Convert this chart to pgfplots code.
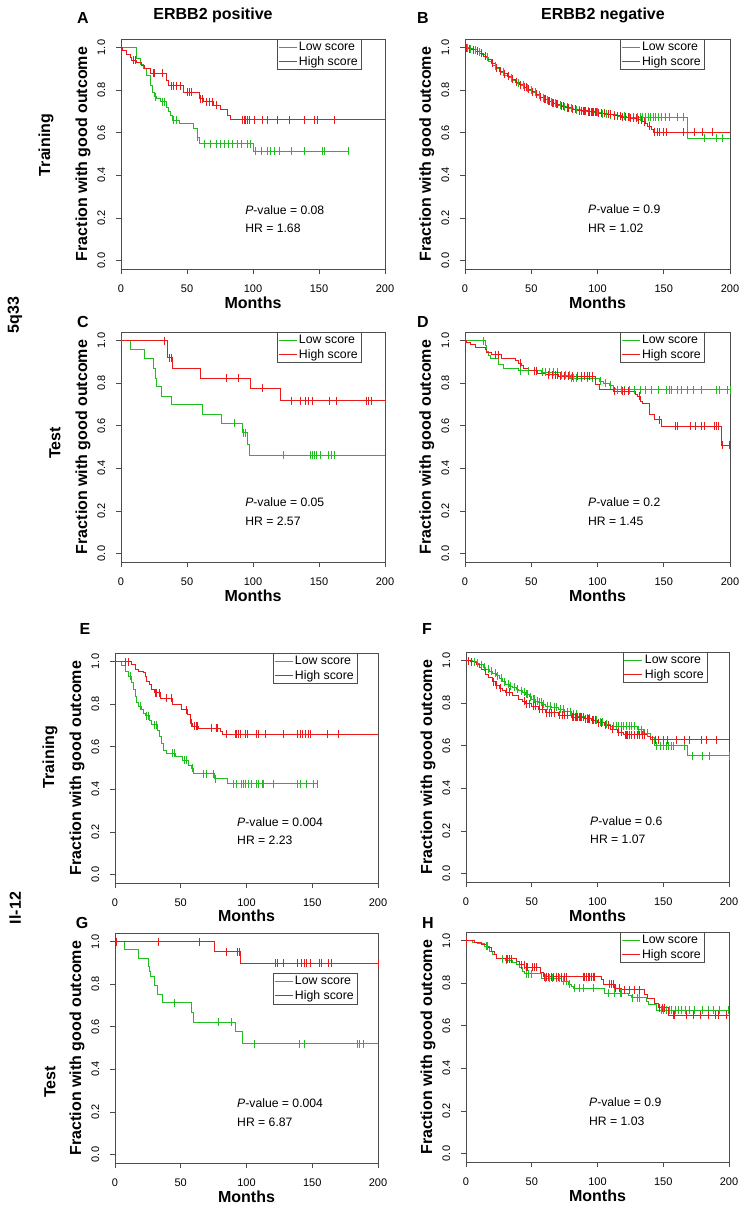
\documentclass[border=0pt]{standalone}
\usepackage{fontspec}
\setmainfont{Liberation Sans}
\usepackage{pgfplots}
\pgfplotsset{compat=1.18}
\definecolor{kmgreen}{RGB}{30,190,30}
\definecolor{kmred}{RGB}{235,25,25}
\newcommand{\bigb}{\bfseries\fontsize{16}{18}\selectfont}
\tikzset{pv/.style={anchor=west, font=\fontsize{12.2}{14}\selectfont, inner sep=0pt}}
\pgfplotsset{legend image code/.code={\draw[#1, line width=0.9pt] (0pt,0pt) -- (18pt,0pt);}}
\pgfplotsset{
  km/.style={
    scale only axis, height=230pt,
    xmin=0, xmax=200, ymin=-0.04, ymax=1.04,
    xtick={0,50,100,150,200}, xticklabels={0,50,100,150,200},
    ytick={0,0.2,0.4,0.6,0.8,1.0}, yticklabels={0.0,0.2,0.4,0.6,0.8,1.0},
    tick pos=left, tick align=outside, major tick length=5pt,
    axis line style={black!70, line width=0.7pt},
    every tick/.style={black!70, line width=0.7pt},
    ticklabel style={font=\fontsize{11}{13}\selectfont},
    yticklabel style={rotate=90, anchor=south, inner xsep=0pt, inner ysep=10.5pt},
    xticklabel style={anchor=north, inner ysep=11pt},
    ylabel={Fraction with good outcome},
    ylabel style={font=\bigb, at={(axis description cs:-0.144,0.5)}, anchor=center},
    xlabel={Months},
    xlabel style={font=\bigb, at={(axis description cs:0.5,-0.148)}, anchor=center},
    legend style={font=\fontsize{12.3}{14}\selectfont, draw=black!70, anchor=north east, inner xsep=1pt, inner ysep=1pt, row sep=0pt, fill=white},
    legend cell align=left,
    clip=false,
  },
}
\newcommand{\kmcurve}[3]{%
  \addplot[const plot, #1, line width=0.75pt] coordinates {#2};
  \addplot[only marks, mark=|, mark size=4pt, #1, mark options={line width=0.7pt}, forget plot] coordinates {#3};
}
\begin{document}
\begin{tikzpicture}
\useasboundingbox (0pt,0pt) rectangle (750pt,-1212pt);

% ---------------- A ----------------
\begin{axis}[km, at={(121pt,-269pt)}, anchor=south west, width=264pt, legend style={at={(0.909,1)}}]
\kmcurve{kmgreen}{(0,1)(12,0.95)(15,0.92)(17,0.90)(19.5,0.87)(22,0.82)(23.5,0.79)(25,0.77)(27,0.76)(30,0.745)(34,0.72)(36,0.70)(37.5,0.68)(38.6,0.66)(44.4,0.643)(54.6,0.62)(58,0.58)(59.6,0.548)(100.3,0.512)(172,0.512)}
{(25.8,0.77)(31.5,0.745)(32.5,0.745)(39.5,0.66)(42,0.66)(57.6,0.58)(63,0.548)(68,0.548)(72,0.548)(75,0.548)(78,0.548)(81,0.548)(84,0.548)(88,0.548)(91,0.548)(96,0.548)(98,0.548)(101.5,0.512)(106,0.512)(111,0.512)(113.5,0.512)(116.5,0.512)(120,0.512)(128.7,0.512)(138.8,0.512)(152.8,0.512)(154,0.512)(172,0.512)}
\kmcurve{kmred}{(0,1)(1,0.985)(4,0.97)(7,0.955)(8,0.94)(12,0.93)(15.7,0.918)(17.8,0.90)(22,0.879)(34,0.847)(36,0.82)(47,0.79)(59.4,0.76)(62.7,0.745)(70,0.73)(75.4,0.71)(80.5,0.68)(83,0.661)(200,0.661)}
{(0.5,0.99)(9.5,0.94)(11,0.94)(24.5,0.879)(25.5,0.879)(31,0.879)(38,0.82)(39.5,0.82)(42,0.82)(45,0.82)(50,0.79)(51.5,0.79)(53,0.79)(60,0.76)(61.5,0.76)(65,0.745)(67,0.745)(69,0.745)(72,0.73)(91.9,0.661)(93.1,0.661)(94.4,0.661)(95.7,0.661)(97,0.661)(100.8,0.661)(107.1,0.661)(110.9,0.661)(118.5,0.661)(127.4,0.661)(138.8,0.661)(146.4,0.661)(149,0.661)(161.7,0.661)}
\legend{Low score, High score}
\node[pv] at (axis cs:94,0.237) {\textit{P}-value = 0.08};
\node[pv] at (axis cs:94,0.153) {HR = 1.68};
\end{axis}

% ---------------- B ----------------
\begin{axis}[km, at={(465pt,-269pt)}, anchor=south west, width=265pt, legend style={at={(0.902,1)}}]
\kmcurve{kmgreen}{(0,1)(3,0.995)(6,0.99)(9,0.98)(12,0.97)(15,0.955)(18,0.935)(21,0.915)(24,0.90)(27,0.885)(30,0.87)(33,0.858)(36,0.845)(39,0.833)(42,0.822)(45,0.812)(48,0.80)(51,0.79)(54,0.775)(57,0.765)(60,0.755)(63,0.745)(66,0.738)(70,0.73)(74,0.722)(78,0.715)(82,0.708)(88,0.70)(95,0.695)(102,0.69)(108,0.684)(115,0.678)(122,0.672)(168,0.575)(200,0.575)}
{(2,1)(4,0.995)(8,0.99)(11,0.98)(17,0.955)(23,0.915)(29,0.885)(35,0.858)(40,0.833)(44,0.822)(47,0.812)(50,0.80)(53,0.79)(56,0.775)(59,0.765)(62,0.755)(65,0.745)(68,0.738)(72,0.73)(75,0.722)(77,0.722)(80,0.715)(84,0.708)(86,0.708)(90,0.70)(93,0.70)(97,0.695)(100,0.695)(104,0.69)(107,0.69)(110,0.684)(113,0.684)(117,0.678)(120,0.678)(124,0.672)(127,0.672)(130,0.672)(132,0.672)(134,0.672)(136,0.672)(138,0.672)(140,0.672)(142,0.672)(144,0.672)(146,0.672)(148,0.672)(151,0.672)(154,0.672)(160,0.672)(165,0.672)(181,0.575)(190,0.575)(194,0.575)}
\kmcurve{kmred}{(0,1)(2,0.995)(5,0.99)(8,0.982)(11,0.972)(14,0.96)(17,0.945)(20,0.925)(23,0.905)(26,0.89)(29,0.877)(32,0.864)(35,0.85)(38,0.838)(41,0.826)(44,0.815)(47,0.803)(50,0.793)(53,0.78)(56,0.768)(59,0.758)(62,0.748)(65,0.74)(68,0.733)(72,0.725)(76,0.718)(80,0.71)(85,0.703)(92,0.698)(100,0.692)(106,0.686)(112,0.68)(118,0.674)(124,0.668)(130,0.662)(134,0.652)(136,0.642)(138,0.632)(140.7,0.617)(142,0.603)(200,0.603)}
{(1,1)(3,0.995)(6,0.99)(9,0.982)(12,0.972)(15,0.96)(21,0.925)(24,0.905)(27,0.89)(30,0.877)(33,0.864)(36,0.85)(39,0.838)(42,0.826)(45,0.815)(46,0.815)(48,0.803)(51,0.793)(54,0.78)(57,0.768)(60,0.758)(61,0.758)(63,0.748)(64,0.748)(66,0.74)(67,0.74)(69,0.733)(70,0.733)(73,0.725)(74,0.725)(77,0.718)(78,0.718)(81,0.71)(83,0.71)(86,0.703)(88,0.703)(89,0.703)(90,0.703)(91,0.703)(93,0.698)(94,0.698)(95,0.698)(96,0.698)(97,0.698)(98,0.698)(99,0.698)(101,0.692)(103,0.692)(105,0.692)(108,0.686)(110,0.686)(113,0.68)(115,0.68)(117,0.68)(119,0.674)(121,0.674)(123,0.674)(125,0.668)(127,0.668)(129,0.668)(131,0.662)(133,0.662)(135,0.652)(139,0.632)(143,0.603)(145,0.603)(147,0.603)(150,0.603)(152,0.603)(165,0.603)(173,0.603)(179,0.603)(187,0.603)}
\legend{Low score, High score}
\node[pv] at (axis cs:92.8,0.242) {\textit{P}-value = 0.9};
\node[pv] at (axis cs:92.8,0.153) {HR = 1.02};
\end{axis}

% ---------------- C ----------------
\begin{axis}[km, at={(121pt,-562pt)}, anchor=south west, width=264pt, legend style={at={(0.909,1)}}]
\kmcurve{kmgreen}{(0,1)(6.9,0.96)(17.5,0.917)(24.6,0.87)(25.9,0.824)(27,0.784)(30.5,0.74)(37.8,0.699)(61.4,0.654)(76.1,0.611)(91.9,0.567)(95.7,0.512)(97.5,0.463)(200,0.463)}
{(0.5,1)(85.5,0.611)(93,0.567)(94.5,0.567)(123,0.463)(143.5,0.463)(145,0.463)(146.5,0.463)(148,0.463)(151,0.463)(157,0.463)(159.5,0.463)(161.5,0.463)}
\kmcurve{kmred}{(0,1)(34.8,0.955)(35.5,0.92)(38.6,0.87)(60.2,0.822)(98.2,0.775)(120.6,0.718)(200,0.718)}
{(0.5,1)(33,1)(36.5,0.92)(38,0.92)(80,0.822)(88.6,0.822)(107,0.775)(128.7,0.718)(135.8,0.718)(140,0.718)(141.9,0.718)(145.2,0.718)(157.9,0.718)(163,0.718)(185.8,0.718)(187.7,0.718)(189.6,0.718)(200,0.718)}
\legend{Low score, High score}
\node[pv] at (axis cs:94,0.242) {\textit{P}-value = 0.05};
\node[pv] at (axis cs:94,0.153) {HR = 2.57};
\end{axis}

% ---------------- D ----------------
\begin{axis}[km, at={(465pt,-562pt)}, anchor=south west, width=265pt, legend style={at={(0.902,1)}}]
\kmcurve{kmgreen}{(0,1)(15,0.976)(16.3,0.95)(17.7,0.93)(19,0.914)(25,0.887)(29,0.868)(40.4,0.859)(57.6,0.851)(72,0.838)(79.5,0.822)(101.5,0.81)(104.8,0.80)(108.6,0.79)(111.6,0.777)(113.6,0.769)(200,0.769)}
{(13.9,1)(42,0.859)(48,0.859)(52,0.859)(58,0.851)(61,0.851)(64,0.851)(67,0.851)(70,0.851)(73,0.838)(76,0.838)(79,0.838)(80.5,0.822)(82,0.822)(84,0.822)(88,0.822)(92,0.822)(96,0.822)(102.5,0.81)(106,0.80)(110,0.79)(115,0.769)(118,0.769)(120,0.769)(124,0.769)(128,0.769)(132,0.769)(136,0.769)(141,0.769)(146,0.769)(152,0.769)(154,0.769)(156,0.769)(160,0.769)(163,0.769)(168,0.769)(172,0.769)(178,0.769)(190,0.769)(192,0.769)(198,0.769)(200,0.769)}
\kmcurve{kmred}{(0,1)(1.3,0.99)(3.8,0.984)(7.6,0.969)(15.2,0.958)(16.5,0.942)(20.2,0.934)(27.8,0.918)(37.9,0.907)(40.4,0.895)(42.9,0.884)(44.2,0.871)(48,0.859)(54.3,0.848)(60.6,0.84)(70.7,0.832)(98.5,0.793)(101.5,0.769)(111.6,0.761)(128.8,0.746)(130,0.738)(132.6,0.714)(133.9,0.706)(139.4,0.655)(142.7,0.628)(148.5,0.597)(193.2,0.51)(200,0.51)}
{(0.5,1)(22.7,0.934)(25,0.934)(41.5,0.895)(52,0.859)(53.5,0.859)(63,0.84)(66,0.84)(68,0.84)(69.5,0.84)(72,0.832)(75,0.832)(78,0.832)(81,0.832)(85,0.832)(88,0.832)(90,0.832)(92,0.832)(94,0.832)(96,0.832)(113,0.761)(119,0.761)(120.5,0.761)(123.5,0.761)(131.3,0.738)(146.5,0.628)(159,0.597)(160,0.597)(170,0.597)(174,0.597)(178,0.597)(180.5,0.597)(188,0.597)(189.5,0.597)(191,0.597)(194.5,0.51)(199.5,0.51)}
\legend{Low score, High score}
\node[pv] at (axis cs:92.8,0.242) {\textit{P}-value = 0.2};
\node[pv] at (axis cs:92.8,0.153) {HR = 1.45};
\end{axis}

% ---------------- E ----------------
\begin{axis}[km, at={(115pt,-883pt)}, anchor=south west, width=263pt, legend style={at={(0.92,1)}},
  xlabel style={at={(axis description cs:0.5,-0.142)}}]
\kmcurve{kmgreen}{(0,1)(5,0.984)(7.6,0.956)(10.2,0.932)(12.7,0.90)(14,0.869)(15.2,0.837)(16.5,0.806)(17.8,0.79)(20.3,0.774)(21.6,0.758)(22.8,0.746)(25.9,0.722)(27.9,0.703)(32.2,0.679)(33.8,0.648)(35,0.616)(36.8,0.585)(39.3,0.569)(45.7,0.553)(51.3,0.537)(55.8,0.513)(58.4,0.498)(59.6,0.474)(75.4,0.45)(85.8,0.427)(153.6,0.427)}
{(11.4,0.932)(19,0.79)(24.1,0.746)(25.4,0.746)(29.7,0.703)(31.7,0.703)(43.4,0.569)(45.2,0.569)(52.6,0.537)(54.6,0.537)(58.9,0.498)(67.3,0.474)(69.8,0.474)(74.9,0.474)(76.1,0.45)(90.1,0.427)(92.6,0.427)(96.4,0.427)(97.7,0.427)(99,0.427)(101.5,0.427)(104,0.427)(107.4,0.427)(109.1,0.427)(111.7,0.427)(112.9,0.427)(120.6,0.427)(138.3,0.427)(140.8,0.427)(145.4,0.427)(151,0.427)(153.6,0.427)}
\kmcurve{kmred}{(0,1)(12.7,0.987)(15.2,0.964)(17.8,0.956)(21.6,0.948)(22.8,0.932)(24.1,0.908)(26.1,0.893)(27.9,0.869)(29.7,0.853)(34.3,0.829)(43.9,0.798)(50.8,0.774)(55.1,0.75)(57.1,0.711)(59.1,0.695)(63.5,0.687)(80.5,0.671)(82,0.66)(200,0.66)}
{(7.6,1)(10.2,1)(30.5,0.853)(31.7,0.853)(33.5,0.853)(39.3,0.829)(43.1,0.829)(54.3,0.774)(58.4,0.711)(60.4,0.695)(61.7,0.695)(63,0.695)(73.1,0.687)(76.9,0.687)(78.2,0.687)(85,0.66)(91.4,0.66)(92.6,0.66)(93.9,0.66)(95.2,0.66)(99,0.66)(100.3,0.66)(107.4,0.66)(109.1,0.66)(114.2,0.66)(128.2,0.66)(138.3,0.66)(140.8,0.66)(142.1,0.66)(144.7,0.66)(147.2,0.66)(148.5,0.66)(161.2,0.66)(170,0.66)}
\legend{Low score, High score}
\node[pv] at (axis cs:92.8,0.246) {\textit{P}-value = 0.004};
\node[pv] at (axis cs:92.8,0.162) {HR = 2.23};
\end{axis}

% ---------------- F ----------------
\begin{axis}[km, at={(466pt,-882pt)}, anchor=south west, width=263pt, legend style={at={(0.916,1)}}]
\kmcurve{kmgreen}{(0,1)(5,0.995)(8,0.988)(10,0.98)(13,0.97)(15,0.96)(18,0.95)(20,0.94)(23,0.928)(25,0.916)(28,0.90)(30,0.889)(33,0.88)(35,0.874)(38,0.866)(40,0.858)(43,0.85)(45,0.842)(48,0.83)(50,0.818)(53,0.81)(55,0.803)(58,0.795)(60,0.787)(65,0.78)(70,0.771)(75,0.76)(80,0.747)(85,0.737)(90,0.728)(95,0.72)(100,0.711)(105,0.70)(110,0.692)(130,0.676)(135,0.66)(140,0.637)(143,0.60)(168,0.553)(200,0.553)}
{(6,0.995)(9,0.988)(12,0.98)(14,0.97)(17,0.96)(19,0.95)(22,0.94)(24,0.928)(27,0.916)(29,0.90)(32,0.889)(34,0.88)(37,0.874)(39,0.866)(42,0.858)(44,0.85)(46,0.842)(47,0.842)(49,0.83)(51,0.818)(52,0.818)(54,0.81)(56,0.803)(57,0.803)(59,0.795)(62,0.787)(64,0.787)(67,0.78)(69,0.78)(72,0.771)(74,0.771)(77,0.76)(79,0.76)(82,0.747)(84,0.747)(87,0.737)(89,0.737)(92,0.728)(94,0.728)(97,0.72)(99,0.72)(102,0.711)(104,0.711)(107,0.70)(112,0.692)(114,0.692)(116,0.692)(118,0.692)(120,0.692)(122,0.692)(124,0.692)(126,0.692)(128,0.692)(131,0.676)(133,0.676)(136,0.66)(138,0.66)(145,0.60)(148,0.60)(150,0.60)(152,0.60)(154,0.60)(156,0.60)(158,0.60)(166,0.60)(172,0.553)(180,0.553)(185,0.553)(200,0.553)}
\kmcurve{kmred}{(0,1)(3,0.995)(6,0.99)(8,0.98)(10,0.968)(12,0.958)(15,0.937)(17,0.92)(20,0.90)(22,0.885)(25,0.869)(28,0.858)(30,0.85)(35,0.837)(40,0.818)(43,0.808)(45,0.798)(50,0.787)(55,0.771)(60,0.755)(70,0.744)(80,0.735)(90,0.727)(95,0.719)(100,0.708)(105,0.695)(110,0.679)(115,0.664)(120,0.652)(138,0.645)(140,0.629)(200,0.629)}
{(2,1)(4,0.995)(21,0.90)(23,0.885)(26,0.869)(31,0.85)(33,0.85)(44,0.808)(46,0.798)(48,0.798)(51,0.787)(53,0.787)(56,0.771)(58,0.771)(61,0.755)(63,0.755)(65,0.755)(67,0.755)(71,0.744)(73,0.744)(75,0.744)(77,0.744)(81,0.735)(82,0.735)(83,0.735)(84,0.735)(85,0.735)(86,0.735)(87,0.735)(88,0.735)(89,0.735)(91,0.727)(92,0.727)(93,0.727)(94,0.727)(96,0.719)(97,0.719)(98,0.719)(101,0.708)(103,0.708)(106,0.695)(108,0.695)(111,0.679)(116,0.664)(118,0.664)(121,0.652)(122,0.652)(123,0.652)(124,0.652)(126,0.652)(128,0.652)(130,0.652)(132,0.652)(134,0.652)(136,0.652)(142,0.629)(144,0.629)(146,0.629)(150,0.629)(153,0.629)(160,0.629)(166,0.629)(170,0.629)(179,0.629)(183,0.629)(190,0.629)}
\legend{Low score, High score}
\node[pv] at (axis cs:94.3,0.246) {\textit{P}-value = 0.6};
\node[pv] at (axis cs:94.3,0.162) {HR = 1.07};
\end{axis}

% ---------------- G ----------------
\begin{axis}[km, at={(115pt,-1163pt)}, anchor=south west, width=263pt, legend style={at={(0.92,0.825)}}]
\kmcurve{kmgreen}{(0,1)(6.9,0.961)(17.8,0.921)(25.4,0.882)(26.3,0.858)(27.2,0.835)(29.7,0.795)(32.5,0.751)(36.3,0.712)(57.9,0.666)(59.6,0.622)(91.4,0.578)(97,0.52)(200,0.52)}
{(44.9,0.712)(78.7,0.622)(88.3,0.622)(106,0.52)(140.4,0.52)(143.9,0.52)(184,0.52)(186,0.52)(188.6,0.52)}
\kmcurve{kmred}{(0,1)(75.6,0.953)(95.2,0.898)(200,0.898)}
{(0.8,1)(33,1)(64,1)(85,0.953)(93.1,0.953)(94.6,0.953)(121.8,0.898)(123.6,0.898)(127.7,0.898)(139,0.898)(141.5,0.898)(143.9,0.898)(145.4,0.898)(148.5,0.898)(155.6,0.898)(156.6,0.898)(162.4,0.898)(164.2,0.898)(200,0.898)}
\legend{Low score, High score}
\node[pv] at (axis cs:92.8,0.243) {\textit{P}-value = 0.004};
\node[pv] at (axis cs:92.8,0.153) {HR = 6.87};
\end{axis}

% ---------------- H ----------------
\begin{axis}[km, at={(466pt,-1162pt)}, anchor=south west, width=263pt, legend style={at={(0.905,1)}}]
\kmcurve{kmgreen}{(0,1)(5,0.992)(8.9,0.986)(14,0.973)(17.8,0.95)(20.3,0.934)(22.9,0.915)(30,0.909)(35,0.898)(38.1,0.887)(40.7,0.874)(43.2,0.855)(44.5,0.844)(57.2,0.824)(72.4,0.808)(77.5,0.795)(80,0.784)(81.3,0.776)(105.5,0.753)(123.3,0.742)(125.8,0.732)(137.2,0.713)(139,0.698)(144.9,0.674)(200,0.674)}
{(15.2,0.973)(16.5,0.973)(28,0.915)(30.5,0.909)(46,0.844)(47.5,0.844)(49.5,0.844)(60,0.824)(63,0.824)(66,0.824)(68.5,0.824)(71,0.824)(74,0.808)(76,0.808)(78.5,0.795)(82.5,0.776)(86.5,0.776)(89,0.776)(97,0.776)(108,0.753)(113,0.753)(117,0.753)(118.5,0.753)(126.5,0.732)(130.5,0.732)(132,0.732)(148.5,0.674)(150,0.674)(152,0.674)(154.5,0.674)(156.5,0.674)(159,0.674)(161.5,0.674)(164,0.674)(166.5,0.674)(170,0.674)(174,0.674)(180,0.674)(184,0.674)(188,0.674)(193,0.674)(199.5,0.674)}
\kmcurve{kmred}{(0,1)(6.4,0.992)(11.4,0.984)(16.5,0.969)(19.1,0.95)(21.6,0.934)(22.9,0.915)(38.1,0.902)(40.7,0.887)(44.5,0.874)(56.7,0.852)(58.5,0.831)(102.9,0.816)(104.2,0.795)(113.1,0.776)(118.2,0.769)(136,0.748)(138,0.729)(143.6,0.706)(146.1,0.685)(153.7,0.65)(200,0.65)}
{(0.5,1)(30.5,0.915)(31.8,0.915)(33,0.915)(34.3,0.915)(42,0.887)(44,0.887)(45.7,0.874)(47,0.874)(50.8,0.874)(52,0.874)(53.3,0.874)(59.7,0.831)(61,0.831)(62.3,0.831)(64.8,0.831)(66.1,0.831)(68.6,0.831)(69.9,0.831)(72.4,0.831)(75,0.831)(76.2,0.831)(88.9,0.831)(90.2,0.831)(91.5,0.831)(92.7,0.831)(94,0.831)(95.3,0.831)(96.5,0.831)(97.8,0.831)(109.3,0.795)(110.6,0.795)(111.9,0.795)(113.6,0.776)(116.9,0.776)(120.7,0.769)(124.5,0.769)(128.3,0.769)(132.1,0.769)(147.4,0.685)(149,0.685)(150.5,0.685)(157.5,0.65)(158.8,0.65)(167.7,0.65)(172.8,0.65)(177.9,0.65)(184.2,0.65)(189.3,0.65)(191.9,0.65)(198.2,0.65)}
\legend{Low score, High score}
\node[pv] at (axis cs:93.5,0.243) {\textit{P}-value = 0.9};
\node[pv] at (axis cs:93.5,0.153) {HR = 1.03};
\end{axis}

% ---------------- labels ----------------
\node[font=\bigb] at (83pt,-18pt) {A};
\node[font=\bigb] at (213pt,-15pt) {ERBB2 positive};
\node[font=\bigb] at (423pt,-18pt) {B};
\node[font=\bigb] at (603pt,-15pt) {ERBB2 negative};
\node[font=\bigb] at (83pt,-322pt) {C};
\node[font=\bigb] at (423pt,-322pt) {D};
\node[font=\bigb] at (85pt,-629pt) {E};
\node[font=\bigb] at (427pt,-629pt) {F};
\node[font=\bigb] at (82pt,-923pt) {G};
\node[font=\bigb] at (428pt,-923pt) {H};
\node[font=\bigb, rotate=90] at (46pt,-145pt) {Training};
\node[font=\bigb, rotate=90] at (55pt,-443pt) {Test};
\node[font=\bigb, rotate=90] at (15pt,-315pt) {5q33};
\node[font=\bigb, rotate=90] at (50pt,-757pt) {Training};
\node[font=\bigb, rotate=90] at (15pt,-908pt) {Il-12};
\node[font=\bigb, rotate=90] at (50pt,-1082pt) {Test};
\end{tikzpicture}
\end{document}
